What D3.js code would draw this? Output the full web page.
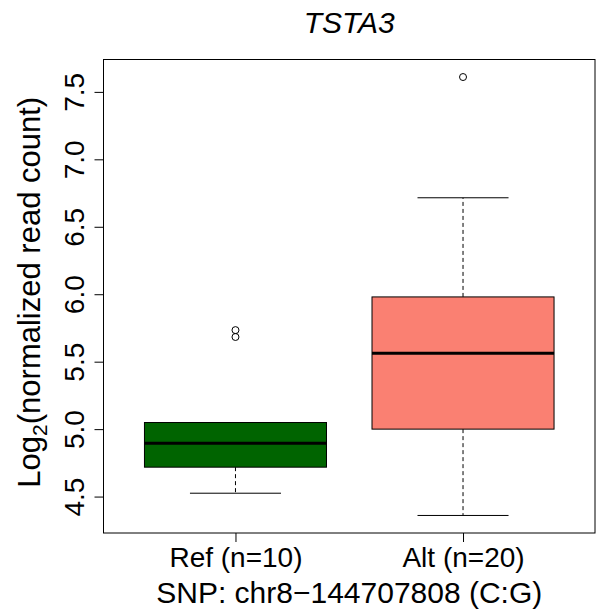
<!DOCTYPE html>
<html>
<head>
<meta charset="utf-8">
<script src="https://cdn.jsdelivr.net/npm/d3@7"></script>
<style>
  body { margin: 0; background: #fff; }
  text { font-family: "Liberation Sans", Arial, sans-serif; }
</style>
</head>
<body>
<div id="chart"></div>
<script>
// Boxplot summary
const groups = ["Ref (n=10)", "Alt (n=20)"];
const fills = ["#006400", "#FA8072"];
const whiskerLow = [4.525, 4.36];
const q1 = [4.718, 5.0];
const median = [4.895, 5.562];
const q3 = [5.049, 5.98];
const whiskerHigh = [5.049, 6.715];
const outliers = [[5.734, 5.683], [7.61]];
const yTicks = [4.5, 5.0, 5.5, 6.0, 6.5, 7.0, 7.5];

const width = 603;
const height = 610;
const plot = { left: 103.5, right: 595, top: 59.5, bottom: 533 };

const svg = d3.select('#chart')
  .append('svg')
  .attr('width', width)
  .attr('height', height);

const x = d3.scaleLinear()
  .domain([0.42, 2.58])
  .range([plot.left, plot.right]);

const y = d3.scaleLinear()
  .domain([4.23, 7.74])
  .range([plot.bottom, plot.top]);

const boxHalf = 0.4;
const capHalf = 0.2;

groups.forEach((g, i) => {
  const cx = x(i + 1);
  const dash = '4,3';

  // whiskers
  svg.append('line')
    .attr('x1', cx).attr('x2', cx)
    .attr('y1', y(q3[i])).attr('y2', y(whiskerHigh[i]))
    .attr('stroke', '#000').attr('stroke-dasharray', dash);
  svg.append('line')
    .attr('x1', cx).attr('x2', cx)
    .attr('y1', y(q1[i])).attr('y2', y(whiskerLow[i]))
    .attr('stroke', '#000').attr('stroke-dasharray', dash);

  // staples
  [whiskerLow[i], whiskerHigh[i]].forEach(v => {
    svg.append('line')
      .attr('x1', x(i + 1 - capHalf)).attr('x2', x(i + 1 + capHalf))
      .attr('y1', y(v)).attr('y2', y(v))
      .attr('stroke', '#000');
  });

  // box
  svg.append('rect')
    .attr('x', x(i + 1 - boxHalf))
    .attr('width', x(i + 1 + boxHalf) - x(i + 1 - boxHalf))
    .attr('y', y(q3[i]))
    .attr('height', y(q1[i]) - y(q3[i]))
    .attr('fill', fills[i])
    .attr('stroke', '#000');

  // median
  svg.append('line')
    .attr('x1', x(i + 1 - boxHalf)).attr('x2', x(i + 1 + boxHalf))
    .attr('y1', y(median[i])).attr('y2', y(median[i]))
    .attr('stroke', '#000').attr('stroke-width', 3);

  // outliers
  svg.selectAll(null)
    .data(outliers[i])
    .enter()
    .append('circle')
    .attr('cx', cx)
    .attr('cy', d => y(d))
    .attr('r', 3.5)
    .attr('fill', 'none')
    .attr('stroke', '#000');
});

// frame
svg.append('rect')
  .attr('x', plot.left).attr('y', plot.top)
  .attr('width', plot.right - plot.left)
  .attr('height', plot.bottom - plot.top)
  .attr('fill', 'none')
  .attr('stroke', '#000');

// y axis
const yAxis = svg.append('g')
  .attr('transform', `translate(${plot.left},0)`)
  .call(d3.axisLeft(y).tickValues(yTicks).tickFormat(d3.format('.1f')).tickSize(9).tickPadding(0));
yAxis.select('.domain').remove();
yAxis.selectAll('text')
  .attr('font-size', 28)
  .attr('font-family', '"Liberation Sans", Arial, sans-serif')
  .attr('fill', '#000')
  .attr('dy', null)
  .attr('x', null)
  .attr('text-anchor', 'middle')
  .attr('transform', 'translate(-20,0) rotate(-90)');

// x axis
const xAxis = svg.append('g')
  .attr('transform', `translate(0,${plot.bottom})`)
  .call(d3.axisBottom(x).tickValues([1, 2]).tickFormat((d, i) => groups[i]).tickSize(9));
xAxis.select('.domain').remove();
xAxis.selectAll('text')
  .attr('font-size', 28)
  .attr('font-family', '"Liberation Sans", Arial, sans-serif')
  .attr('fill', '#000')
  .attr('dy', null)
  .attr('y', 34);

// titles
svg.append('text')
  .attr('x', (plot.left + plot.right) / 2)
  .attr('y', 33)
  .attr('text-anchor', 'middle')
  .attr('font-size', 30)
  .attr('font-style', 'italic')
  .text('TSTA3');

svg.append('text')
  .attr('x', (plot.left + plot.right) / 2)
  .attr('y', 603)
  .attr('text-anchor', 'middle')
  .attr('font-size', 30)
  .text('SNP: chr8\u2212144707808 (C:G)');

const yLab = svg.append('text')
  .attr('transform', `translate(40,${(plot.top + plot.bottom) / 2 - 4}) rotate(-90)`)
  .attr('text-anchor', 'middle')
  .attr('font-size', 31);
yLab.append('tspan').text('Log');
yLab.append('tspan').attr('font-size', 21).attr('dy', 7).text('2');
yLab.append('tspan').attr('dy', -7).text('(normalized read count)');
</script>
</body>
</html>
